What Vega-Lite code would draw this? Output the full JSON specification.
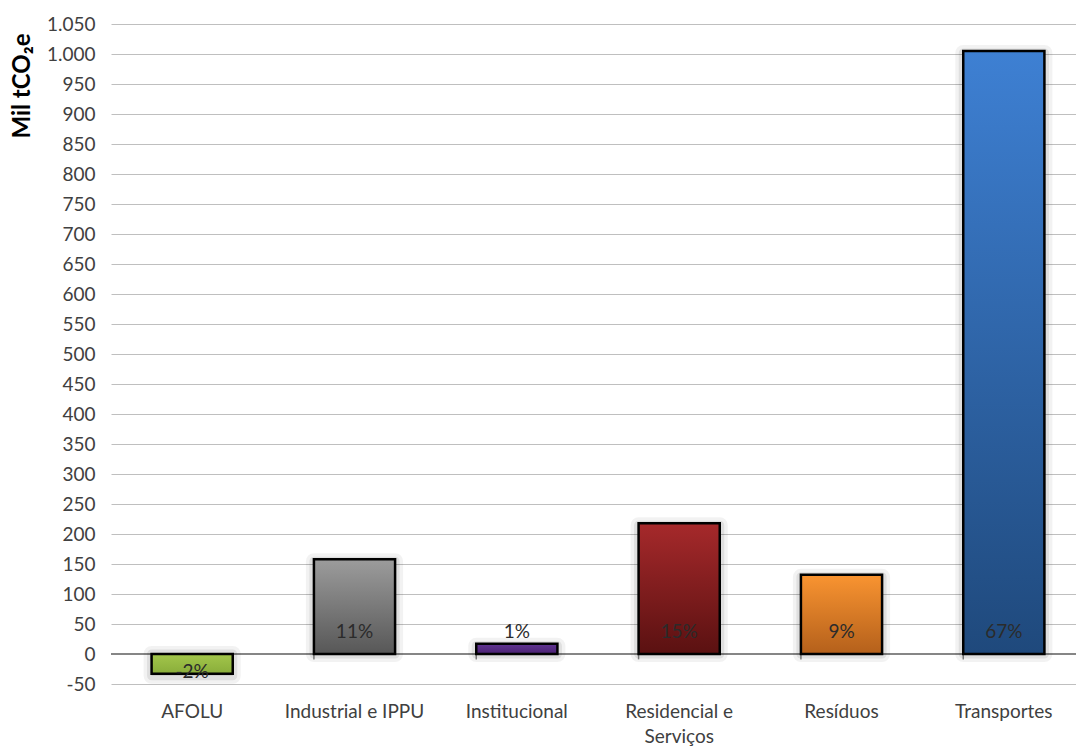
{
  "$schema": "https://vega.github.io/schema/vega-lite/v6.json",
  "autosize": "none",
  "width": 965,
  "height": 660,
  "padding": {"left": 111, "top": 24, "right": 0, "bottom": 63},
  "background": "#ffffff",
  "config": {
    "view": {"stroke": null},
    "font": "Lato",
    "axis": {"labelFont": "Lato", "titleFont": "Lato"},
    "axisY": {
      "tickCount": 24,
      "labelOverlap": false,
      "labelFontSize": 19,
      "labelColor": "#404040",
      "labelPadding": 16,
      "domain": false,
      "ticks": false,
      "grid": true,
      "gridColor": "#bfbfbf",
      "gridWidth": 1.2
    }
  },
  "data": {
    "values": [
      {"setor": "AFOLU", "emissoes": -33, "pct": "-2%"},
      {"setor": "Industrial e IPPU", "emissoes": 158, "pct": "11%"},
      {"setor": "Institucional", "emissoes": 17, "pct": "1%"},
      {"setor": "Residencial e Serviços", "emissoes": 218, "pct": "15%"},
      {"setor": "Resíduos", "emissoes": 132, "pct": "9%"},
      {"setor": "Transportes", "emissoes": 1005, "pct": "67%"}
    ]
  },
  "encoding": {
    "x": {
      "field": "setor",
      "type": "nominal",
      "sort": null,
      "scale": {"range": [0, 974], "paddingInner": 0.5, "paddingOuter": 0.25},
      "axis": {
        "title": null,
        "domain": false,
        "ticks": false,
        "labelAngle": 0,
        "labelFontSize": 19,
        "labelColor": "#404040",
        "labelPadding": 18,
        "labelLineHeight": 25,
        "labelExpr": "datum.value == 'Residencial e Serviços' ? ['Residencial e', 'Serviços'] : datum.value"
      }
    }
  },
  "layer": [
    {
      "mark": {"type": "rule", "color": "#868686", "strokeWidth": 1.5},
      "encoding": {
        "x": null,
        "y": {
          "datum": 0,
          "type": "quantitative",
          "scale": {"domain": [-50, 1050], "nice": false, "zero": false},
          "axis": {
            "title": "Mil tCO₂e",
            "titleFontSize": 24,
            "titleFontWeight": "bold",
            "titleColor": "#000000",
            "titleAngle": 270,
            "titleAlign": "right",
            "titleBaseline": "middle",
            "titleX": -89,
            "titleY": 9,
            "tickCount": 24,
            "values": [-50, 0, 50, 100, 150, 200, 250, 300, 350, 400, 450, 500, 550, 600, 650, 700, 750, 800, 850, 900, 950, 1000, 1050],
            "labelExpr": "replace(replace(format(datum.value, ',d'), ',', '.'), '−', '-')"
          }
        }
      }
    },
    {
      "mark": {"type": "rule", "color": "#868686", "strokeWidth": 1.5},
      "encoding": {
        "x": {"field": "setor", "type": "nominal", "sort": null, "bandPosition": 0},
        "y": {"datum": 0, "type": "quantitative"},
        "y2": {"datum": -9}
      }
    },
    {
      "mark": {"type": "bar", "fill": "#000000", "fillOpacity": 0.05, "stroke": "#000000", "strokeOpacity": 0.05, "strokeWidth": 16, "strokeJoin": "round", "yOffset": 2},
      "encoding": {"y": {"field": "emissoes", "type": "quantitative"}, "y2": {"datum": 0}}
    },
    {
      "mark": {"type": "bar", "fill": "#000000", "fillOpacity": 0.05, "stroke": "#000000", "strokeOpacity": 0.08, "strokeWidth": 9, "strokeJoin": "round", "yOffset": 2},
      "encoding": {"y": {"field": "emissoes", "type": "quantitative"}, "y2": {"datum": 0}}
    },
    {
      "transform": [{"filter": "datum.setor == 'AFOLU'"}],
      "mark": {"type": "bar", "stroke": "#000000", "strokeWidth": 2.5,
        "color": {"gradient": "linear", "x1": 0, "y1": 0, "x2": 0, "y2": 1,
          "stops": [{"offset": 0, "color": "#a3c64b"}, {"offset": 1, "color": "#89ad3a"}]}},
      "encoding": {"y": {"field": "emissoes", "type": "quantitative"}, "y2": {"datum": 0}}
    },
    {
      "transform": [{"filter": "datum.setor == 'Industrial e IPPU'"}],
      "mark": {"type": "bar", "stroke": "#000000", "strokeWidth": 2.5,
        "color": {"gradient": "linear", "x1": 0, "y1": 0, "x2": 0, "y2": 1,
          "stops": [{"offset": 0, "color": "#9c9c9c"}, {"offset": 1, "color": "#575757"}]}},
      "encoding": {"y": {"field": "emissoes", "type": "quantitative"}, "y2": {"datum": 0}}
    },
    {
      "transform": [{"filter": "datum.setor == 'Institucional'"}],
      "mark": {"type": "bar", "stroke": "#000000", "strokeWidth": 2.5,
        "color": {"gradient": "linear", "x1": 0, "y1": 0, "x2": 0, "y2": 1,
          "stops": [{"offset": 0, "color": "#603592"}, {"offset": 1, "color": "#4b2173"}]}},
      "encoding": {"y": {"field": "emissoes", "type": "quantitative"}, "y2": {"datum": 0}}
    },
    {
      "transform": [{"filter": "datum.setor == 'Residencial e Serviços'"}],
      "mark": {"type": "bar", "stroke": "#000000", "strokeWidth": 2.5,
        "color": {"gradient": "linear", "x1": 0, "y1": 0, "x2": 0, "y2": 1,
          "stops": [{"offset": 0, "color": "#a6292b"}, {"offset": 1, "color": "#5a1111"}]}},
      "encoding": {"y": {"field": "emissoes", "type": "quantitative"}, "y2": {"datum": 0}}
    },
    {
      "transform": [{"filter": "datum.setor == 'Resíduos'"}],
      "mark": {"type": "bar", "stroke": "#000000", "strokeWidth": 2.5,
        "color": {"gradient": "linear", "x1": 0, "y1": 0, "x2": 0, "y2": 1,
          "stops": [{"offset": 0, "color": "#f99431"}, {"offset": 1, "color": "#b4601b"}]}},
      "encoding": {"y": {"field": "emissoes", "type": "quantitative"}, "y2": {"datum": 0}}
    },
    {
      "transform": [{"filter": "datum.setor == 'Transportes'"}],
      "mark": {"type": "bar", "stroke": "#000000", "strokeWidth": 2.5,
        "color": {"gradient": "linear", "x1": 0, "y1": 0, "x2": 0, "y2": 1,
          "stops": [{"offset": 0, "color": "#3e80d3"}, {"offset": 1, "color": "#1f497c"}]}},
      "encoding": {"y": {"field": "emissoes", "type": "quantitative"}, "y2": {"datum": 0}}
    },
    {
      "transform": [{"filter": "datum.emissoes > 0"}],
      "mark": {"type": "text", "fontSize": 19, "color": "#2b2b2b", "baseline": "middle", "dy": -22},
      "encoding": {"y": {"datum": 0, "type": "quantitative"}, "text": {"field": "pct"}}
    },
    {
      "transform": [{"filter": "datum.emissoes < 0"}],
      "mark": {"type": "text", "fontSize": 19, "color": "#2b2b2b", "baseline": "middle", "dy": 18},
      "encoding": {"y": {"datum": 0, "type": "quantitative"}, "text": {"field": "pct"}}
    }
  ]
}
